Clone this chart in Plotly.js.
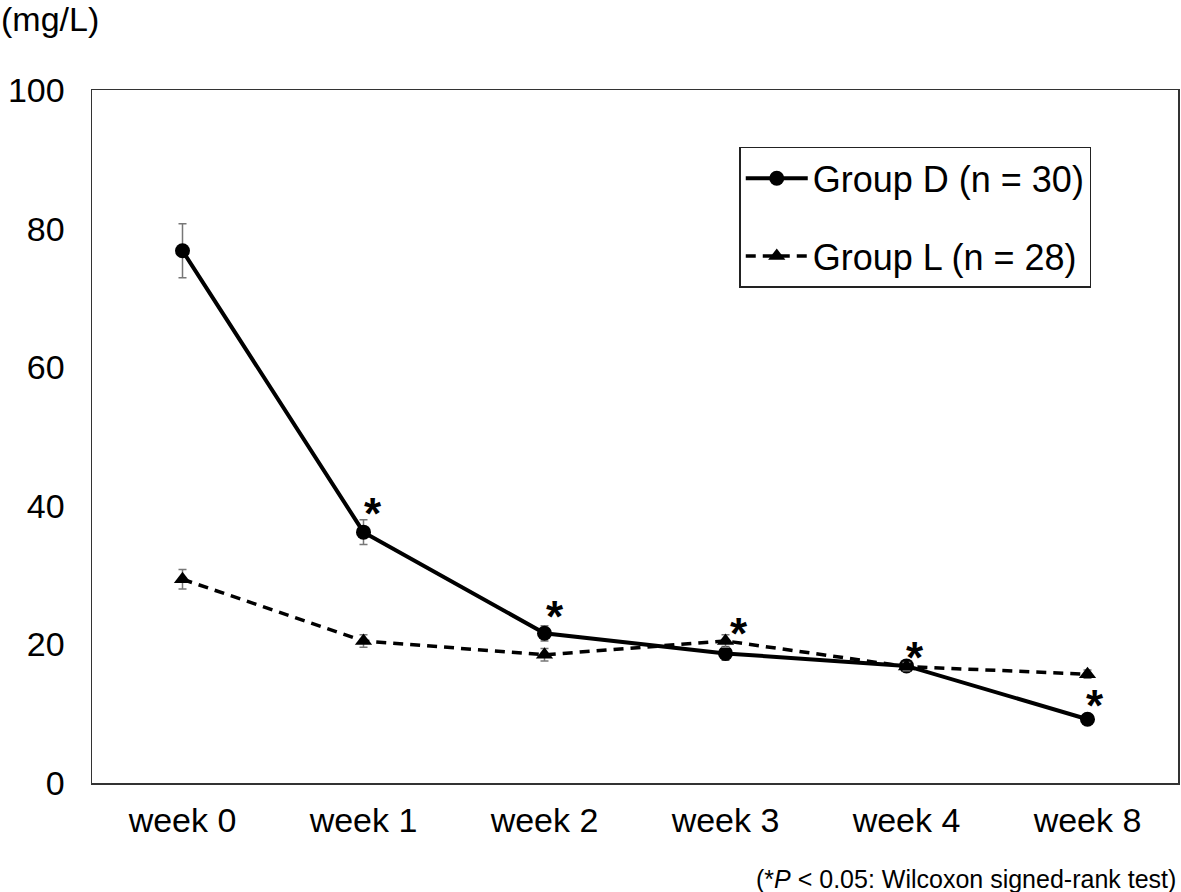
<!DOCTYPE html>
<html>
<head>
<meta charset="utf-8">
<script src="https://cdn.plot.ly/plotly-3.0.1.min.js"></script>
<style>html,body{margin:0;padding:0;background:#fff;}#chart{width:1181px;height:892px;}</style>
</head>
<body>
<div id="chart"></div>
<script>
const weeks = ["week 0", "week 1", "week 2", "week 3", "week 4", "week 8"];
const groupD = [76.8, 36.2, 21.6, 18.7, 16.9, 9.2];
const groupDErr = [3.9, 1.8, 1.1, 1.0, 0.6, 0.5];
const groupL = [29.4, 20.5, 18.5, 20.5, 16.8, 15.7];
const groupLErr = [1.4, 0.9, 0.9, 0.9, 0.6, 0.6];
const sigWeeks = ["week 1", "week 2", "week 3", "week 4", "week 8"];
const sigY = [36.2, 21.6, 20.5, 16.9, 9.2];
const sigShiftX = [9, 10, 13, 8, 7];
const sigShiftY = [19, 17, 7, 8, 14];

const FONT = "Liberation Sans, Arial, Helvetica, sans-serif";

const traces = [
  {
    x: weeks, y: groupD, name: "Group D (n = 30)", type: "scatter", mode: "lines+markers",
    legendgroup: "d",
    line: {color: "#000", width: 4},
    marker: {symbol: "circle", size: 15, color: "#000"},
    error_y: {type: "data", array: groupDErr, visible: true, color: "#777", thickness: 1.5, width: 4}
  },
  {
    x: weeks, y: groupL, name: "Group L (n = 28)", type: "scatter", mode: "lines+markers",
    legendgroup: "l",
    line: {color: "#000", width: 3.5, dash: "10px,7px"},
    marker: {symbol: "triangle-up", size: 15, color: "#000"},
    error_y: {type: "data", array: groupLErr, visible: true, color: "#777", thickness: 1.5, width: 4}
  }
];

const annotations = sigWeeks.map((w, i) => ({
  x: w, y: sigY[i], xref: "x", yref: "y", text: "<b>*</b>", showarrow: false,
  xshift: sigShiftX[i], yshift: sigShiftY[i],
  font: {family: FONT, size: 44, color: "#000"}
}));
annotations.push({
  x: 0, y: 1, xref: "paper", yref: "paper", xanchor: "left", yanchor: "bottom",
  xshift: -93, yshift: 50,
  text: "(mg/L)", showarrow: false, font: {family: FONT, size: 34, color: "#000"}
});
annotations.push({
  x: 1, y: 0, xref: "paper", yref: "paper", xanchor: "right", yanchor: "top",
  yshift: -80,
  text: "(*<i>P</i> &lt; 0.05: Wilcoxon signed-rank test)", showarrow: false,
  font: {family: FONT, size: 25, color: "#000"}
});

const layout = {
  width: 1181, height: 892,
  margin: {l: 92, r: 3, t: 90, b: 109},
  paper_bgcolor: "#fff", plot_bgcolor: "#fff",
  font: {family: FONT, color: "#000"},
  showlegend: true,
  legend: {
    x: 0.596, y: 0.918, xanchor: "left", yanchor: "top",
    bordercolor: "#222", borderwidth: 1.5, bgcolor: "#fff",
    font: {family: FONT, size: 36, color: "#000"},
    traceorder: "grouped", tracegroupgap: 28, itemwidth: 62
  },
  xaxis: {
    type: "category", range: [-0.5, 5.5],
    showline: true, mirror: true, linecolor: "#333", linewidth: 1.5,
    showgrid: false, zeroline: false, ticks: "",
    tickfont: {family: FONT, size: 34, color: "#000"},
    ticklabelstandoff: 7
  },
  yaxis: {
    range: [0, 100], dtick: 20,
    showline: true, mirror: true, linecolor: "#333", linewidth: 1.5,
    showgrid: false, zeroline: false, ticks: "",
    tickfont: {family: FONT, size: 34, color: "#000"},
    ticklabelstandoff: 19
  },
  annotations: annotations
};

Plotly.newPlot("chart", traces, layout, {displayModeBar: false, staticPlot: true});
</script>
</body>
</html>
